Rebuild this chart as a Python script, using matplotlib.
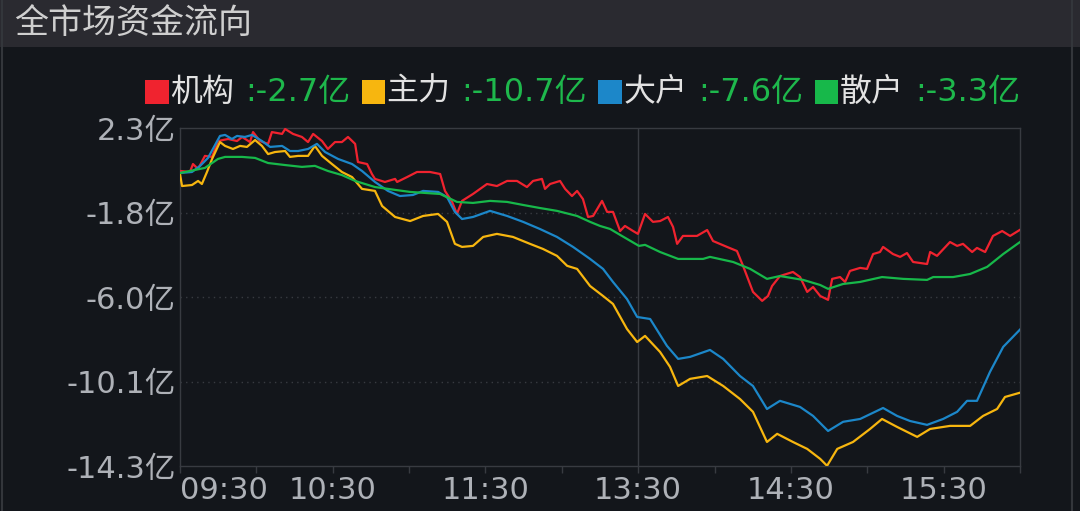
import matplotlib
matplotlib.use('Agg')
import matplotlib.pyplot as plt
from matplotlib.patches import Rectangle
from matplotlib.lines import Line2D
from matplotlib.offsetbox import TextArea, DrawingArea, HPacker, AnchoredOffsetbox

plt.rcParams['font.family'] = ['DejaVu Sans', 'Noto Sans CJK SC']

# trading minutes since 09:30 (HK session: 09:30-12:00, 13:00-16:00), values in 亿
red_t = [0, 3.9, 5.1, 7.1, 9.8, 12.6, 14.9, 18.9, 22.4, 24.4, 27.5, 28.7, 31.4, 34.6, 36.1, 40.1,
         41.3, 44.4, 47.9, 50.3, 52.3, 55.8, 58.1, 60.9, 63.6, 66.0, 68.8, 69.9, 73.5, 75.4, 76.6,
         80.5, 84.5, 85.3, 89.2, 93.1, 98.2, 102.2, 104.1, 106.9, 108.8, 110.8, 115.1, 120.6, 124.5,
         128.5, 132.4, 136.3, 138.7, 142.2, 143.4, 145.4, 149.3, 151.3, 154.0, 156.0, 158.3, 160.3,
         162.3, 165.8, 167.8, 170.1, 172.9, 174.8, 178.0, 179.9, 182.7, 185.8, 188.6, 191.7, 193.7,
         195.3, 197.6, 203.1, 207.1, 209.4, 214.9, 218.8, 221.2, 225.1, 228.7, 231.0, 232.6, 235.7,
         240.8, 243.6, 246.4, 248.7, 251.5, 254.6, 256.2, 259.3, 261.3, 263.2, 267.2, 269.9, 272.3,
         275.0, 276.2, 280.1, 282.9, 285.6, 288.0, 293.5, 294.7, 297.4, 302.5, 305.3, 307.6, 311.2,
         313.1, 316.3, 319.4, 323.0, 326.1, 330.0]
red_v = [0.19, 0.14, 0.53, 0.29, 0.93, 0.88, 1.66, 1.76, 1.66, 1.86, 1.61, 2.10, 1.66, 1.52, 2.10, 2.01,
         2.25, 2.01, 1.86, 1.61, 2.01, 1.66, 1.27, 1.61, 1.61, 1.86, 1.52, 0.63, 0.53, 0.04, -0.20,
         -0.35, -0.20, -0.35, -0.11, 0.14, 0.14, 0.04, -0.79, -1.33, -1.92, -1.28, -0.94, -0.45, -0.55,
         -0.30, -0.30, -0.60, -0.30, -0.20, -0.69, -0.45, -0.30, -0.69, -1.04, -0.79, -1.19, -2.07,
         -2.02, -1.28, -1.82, -1.82, -2.76, -2.51, -2.76, -2.90, -1.92, -2.31, -2.27, -2.07, -2.56,
         -3.39, -3.00, -3.00, -2.71, -3.25, -3.54, -3.74, -4.47, -5.75, -6.19, -5.95, -5.46, -4.97,
         -4.77, -5.02, -5.75, -5.51, -5.95, -6.14, -5.11, -5.02, -5.26, -4.72, -4.57, -4.62, -3.89,
         -3.79, -3.54, -3.89, -4.03, -3.84, -4.28, -4.38, -3.79, -3.98, -3.30, -3.49, -3.39, -3.79,
         -3.59, -3.79, -3.00, -2.76, -3.00, -2.70]

yellow_t = [0, 0.8, 4.7, 7.1, 8.6, 10.6, 12.6, 15.7, 17.7, 20.8, 23.6, 26.3, 29.5, 32.2, 34.6, 37.3,
            41.3, 43.2, 46.4, 50.3, 53.0, 55.8, 59.7, 63.6, 67.6, 71.5, 76.6, 79.4, 84.5, 90.4, 95.5,
            101.4, 104.9, 108.0, 110.8, 115.1, 119.1, 124.5, 130.8, 137.5, 142.6, 148.1, 152.1, 156.0,
            161.1, 166.2, 170.1, 175.6, 179.6, 182.7, 188.6, 192.5, 195.7, 200.4, 207.1, 213.4, 220.0,
            225.1, 230.6, 234.6, 240.8, 246.4, 251.5, 254.2, 258.2, 264.4, 271.1, 275.8, 281.7, 289.6,
            294.7, 302.5, 310.4, 315.5, 321.0, 324.1, 330.0]
yellow_v = [0.04, -0.55, -0.50, -0.30, -0.45, 0.14, 0.78, 1.61, 1.42, 1.27, 1.42, 1.37, 1.71, 1.42, 1.02,
            1.12, 1.17, 0.88, 0.93, 0.93, 1.42, 0.93, 0.53, 0.14, -0.11, -0.69, -0.79, -1.53, -2.07,
            -2.27, -2.02, -1.92, -2.31, -3.39, -3.54, -3.49, -3.05, -2.90, -3.05, -3.39, -3.64, -3.98,
            -4.47, -4.62, -5.46, -5.95, -6.34, -7.57, -8.21, -7.91, -8.70, -9.43, -10.37, -10.02, -9.88,
            -10.37, -11.01, -11.64, -13.12, -12.72, -13.12, -13.46, -13.95, -14.29, -13.46, -13.12,
            -12.48, -11.99, -12.38, -12.87, -12.48, -12.33, -12.33, -11.84, -11.50, -10.91, -10.70]

blue_t = [0, 4.7, 7.9, 11.0, 15.7, 17.7, 20.4, 22.4, 25.5, 28.3, 32.2, 35.4, 40.1, 43.2, 46.4, 50.3,
          53.8, 57.0, 62.1, 67.6, 71.5, 76.6, 81.7, 84.5, 86.4, 91.5, 95.5, 101.4, 104.9, 108.0, 110.8,
          115.1, 121.8, 128.5, 134.8, 141.4, 148.1, 154.4, 161.1, 166.2, 170.1, 175.6, 179.6, 184.7,
          191.3, 195.7, 200.4, 208.2, 213.4, 220.0, 225.1, 230.6, 235.7, 243.6, 248.7, 254.6, 260.5,
          267.2, 276.2, 281.7, 286.8, 293.5, 299.8, 305.3, 309.2, 313.1, 318.2, 323.4, 330.0]
blue_v = [0.09, 0.14, 0.44, 0.83, 1.91, 1.96, 1.76, 1.91, 1.86, 1.96, 1.66, 1.37, 1.42, 1.17, 1.17, 1.27,
          1.52, 1.12, 0.78, 0.53, 0.19, -0.35, -0.79, -0.94, -1.04, -0.99, -0.79, -0.84, -1.09, -1.82,
          -2.17, -2.07, -1.77, -2.02, -2.31, -2.66, -3.05, -3.54, -4.13, -4.62, -5.26, -6.10, -6.98,
          -7.08, -8.40, -9.04, -8.94, -8.60, -9.04, -9.88, -10.37, -11.50, -11.10, -11.40, -11.84,
          -12.58, -12.13, -11.99, -11.45, -11.84, -12.09, -12.28, -11.99, -11.64, -11.10, -11.10,
          -9.68, -8.45, -7.60]

green_t = [0, 9.8, 14.9, 17.7, 24.4, 29.5, 34.6, 41.3, 47.9, 53.0, 58.1, 63.6, 68.8, 76.6, 84.5, 90.4,
           102.2, 108.8, 115.1, 121.8, 128.5, 134.8, 141.4, 148.1, 156.0, 161.1, 165.0, 169.0, 172.9,
           180.3, 182.7, 188.6, 195.7, 205.5, 208.2, 217.3, 224.0, 230.6, 235.7, 244.8, 247.5, 251.5,
           254.6, 260.5, 267.2, 275.8, 284.1, 293.5, 295.9, 303.7, 310.4, 317.1, 323.4, 330.0]
green_v = [0.09, 0.34, 0.78, 0.88, 0.88, 0.83, 0.58, 0.48, 0.39, 0.44, 0.19, -0.01, -0.30, -0.60, -0.74,
           -0.84, -0.94, -1.33, -1.38, -1.28, -1.33, -1.48, -1.63, -1.77, -2.02, -2.31, -2.51, -2.66,
           -2.95, -3.49, -3.44, -3.79, -4.13, -4.13, -4.03, -4.28, -4.62, -5.11, -4.97, -5.16, -5.26,
           -5.41, -5.60, -5.36, -5.26, -5.02, -5.11, -5.16, -5.02, -5.02, -4.87, -4.52, -3.89, -3.30]

names = ['机构', '主力', '大户', '散户']
final_vals = ['-2.7亿', '-10.7亿', '-7.6亿', '-3.3亿']
colors = ['#f0232f', '#f7b60f', '#1c87c9', '#17b84a']

x_ticks = [0, 60, 120, 180, 240, 300]
x_labels = ['09:30', '10:30', '11:30', '13:30', '14:30', '15:30']
x_minor = [30, 90, 150, 210, 270, 330]
y_ticks = [2.3, -1.85, -6.0, -10.15, -14.3]
y_labels = ['2.3亿', '-1.8亿', '-6.0亿', '-10.1亿', '-14.3亿']

bg = '#13161b'
grid_col = '#383b41'
label_col = '#aeb1b7'

fig = plt.figure(figsize=(10.8, 5.11), dpi=100, facecolor=bg)
W, H = 1080, 511

# title bar
fig.patches.append(Rectangle((0, 1 - 47 / H), 1, 47 / H, transform=fig.transFigure,
                             facecolor='#2a2a30', edgecolor='none', zorder=0))
fig.text(14 / W, 1 - 24 / H, '全市场资金流向', color='#cfcfcf', fontsize=24.5,
         ha='left', va='center')
fig.add_artist(Line2D([2 / W, 2 / W], [0, 1], transform=fig.transFigure, color='#33363b', lw=1.5))
fig.add_artist(Line2D([1072 / W, 1072 / W], [0, 1], transform=fig.transFigure, color='#33363b', lw=1.5))

ax = fig.add_axes([180 / W, 45 / H, 840 / W, 338 / H])
ax.set_facecolor(bg)
ax.set_xlim(0, 330)
ax.set_ylim(-14.3, 2.3)
for s in ax.spines.values():
    s.set_color(grid_col)
    s.set_linewidth(1)

for y in y_ticks[1:-1]:
    ax.axhline(y, color=grid_col, lw=1, ls=(0, (1, 3)), zorder=1)
ax.axvline(180, color=grid_col, lw=1, zorder=1)

ax.plot(red_t, red_v, color=colors[0], lw=1.6, zorder=3)
ax.plot(yellow_t, yellow_v, color=colors[1], lw=1.6, zorder=3)
ax.plot(blue_t, blue_v, color=colors[2], lw=1.6, zorder=3)
ax.plot(green_t, green_v, color=colors[3], lw=1.6, zorder=4)

ax.set_xticks(x_ticks)
ax.set_xticklabels(x_labels)
ax.set_xticks(x_minor, minor=True)
ax.tick_params(axis='x', which='both', direction='out', length=5, width=1, color=grid_col,
               labelcolor=label_col, labelsize=22, pad=2)
ax.get_xticklabels()[0].set_horizontalalignment('left')
ax.set_yticks(y_ticks)
ax.set_yticklabels(y_labels)
ax.tick_params(axis='y', length=0, labelcolor=label_col, labelsize=22, pad=3)

# legend row
items = []
for name, val, c in zip(names, final_vals, colors):
    sq = DrawingArea(17, 17)
    sq.add_artist(Rectangle((0, 0), 17, 17, facecolor=c, edgecolor='none'))
    t1 = TextArea(name, textprops=dict(color='#e2e2e2', fontsize=23))
    t2 = TextArea(':' + val, textprops=dict(color='#1eb84c', fontsize=23))
    head = HPacker(children=[sq, t1], sep=1, pad=0, align='center')
    items.append(HPacker(children=[head, t2], sep=8, pad=0, align='center'))
row = HPacker(children=items, sep=8, pad=0, align='center')
box = AnchoredOffsetbox(loc='center right', child=row, pad=0, borderpad=0, frameon=False,
                        bbox_to_anchor=(1020 / W, 1 - 92 / H), bbox_transform=fig.transFigure)
fig.add_artist(box)

fig.savefig('out.png', dpi=100, facecolor=fig.get_facecolor())
